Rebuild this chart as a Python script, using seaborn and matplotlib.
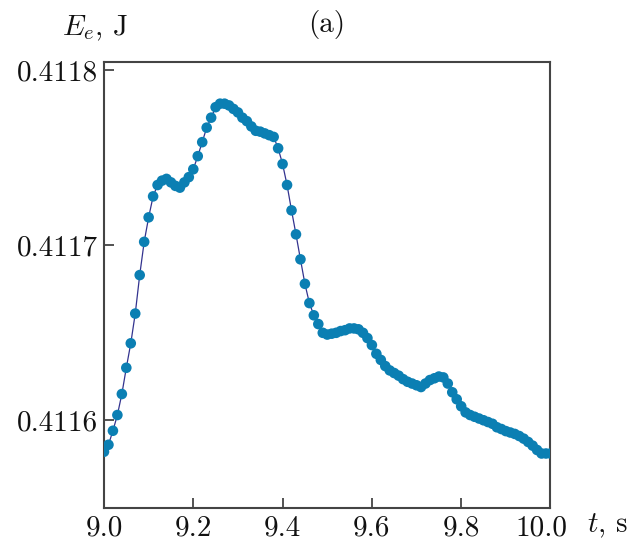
import numpy as np
import pandas as pd
import matplotlib
matplotlib.use("Agg")
import matplotlib.pyplot as plt
import matplotlib.transforms as mtransforms
import seaborn as sns

# ---- data ----
t_values = [
    9.00, 9.01, 9.02, 9.03, 9.04, 9.05, 9.06, 9.07, 9.08, 9.09,
    9.10, 9.11, 9.12, 9.13, 9.14, 9.15, 9.16, 9.17, 9.18, 9.19,
    9.20, 9.21, 9.22, 9.23, 9.24, 9.25, 9.26, 9.27, 9.28, 9.29,
    9.30, 9.31, 9.32, 9.33, 9.34, 9.35, 9.36, 9.37, 9.38, 9.39,
    9.40, 9.41, 9.42, 9.43, 9.44, 9.45, 9.46, 9.47, 9.48, 9.49,
    9.50, 9.51, 9.52, 9.53, 9.54, 9.55, 9.56, 9.57, 9.58, 9.59,
    9.60, 9.61, 9.62, 9.63, 9.64, 9.65, 9.66, 9.67, 9.68, 9.69,
    9.70, 9.71, 9.72, 9.73, 9.74, 9.75, 9.76, 9.77, 9.78, 9.79,
    9.80, 9.81, 9.82, 9.83, 9.84, 9.85, 9.86, 9.87, 9.88, 9.89,
    9.90, 9.91, 9.92, 9.93, 9.94, 9.95, 9.96, 9.97, 9.98, 9.99,
    10.00,
]
energy_values = [
    0.4115820, 0.4115860, 0.4115940, 0.4116030, 0.4116150, 0.4116300, 0.4116440, 0.4116610, 0.4116830, 0.4117020,
    0.4117160, 0.4117280, 0.4117345, 0.4117370, 0.4117380, 0.4117360, 0.4117340, 0.4117330, 0.4117360, 0.4117390,
    0.4117435, 0.4117510, 0.4117590, 0.4117673, 0.4117730, 0.4117790, 0.4117810, 0.4117810, 0.4117800, 0.4117780,
    0.4117760, 0.4117730, 0.4117710, 0.4117680, 0.4117655, 0.4117650, 0.4117640, 0.4117630, 0.4117620, 0.4117555,
    0.4117465, 0.4117345, 0.4117200, 0.4117063, 0.4116920, 0.4116780, 0.4116670, 0.4116600, 0.4116550, 0.4116500,
    0.4116490, 0.4116495, 0.4116500, 0.4116510, 0.4116515, 0.4116525, 0.4116525, 0.4116520, 0.4116500, 0.4116470,
    0.4116430, 0.4116380, 0.4116345, 0.4116310, 0.4116285, 0.4116270, 0.4116255, 0.4116235, 0.4116220, 0.4116210,
    0.4116200, 0.4116190, 0.4116210, 0.4116230, 0.4116240, 0.4116250, 0.4116245, 0.4116210, 0.4116160, 0.4116120,
    0.4116080, 0.4116045, 0.4116030, 0.4116020, 0.4116010, 0.4116000, 0.4115990, 0.4115980, 0.4115960, 0.4115950,
    0.4115938, 0.4115930, 0.4115922, 0.4115910, 0.4115895, 0.4115876, 0.4115855, 0.4115830, 0.4115810, 0.4115810,
    0.4115810,
]
x_ticks = [9.0, 9.2, 9.4, 9.6, 9.8, 10.0]
x_tick_labels = ["9.0", "9.2", "9.4", "9.6", "9.8", "10.0"]
y_ticks = [0.4116, 0.4117, 0.4118]
y_tick_labels = ["0.4116", "0.4117", "0.4118"]

df = pd.DataFrame({"t": t_values, "E": energy_values})

sns.set_theme(style="ticks")
plt.rcParams["font.family"] = ["cmr10", "DejaVu Serif"]
plt.rcParams["mathtext.fontset"] = "cm"
plt.rcParams["axes.unicode_minus"] = False
plt.rcParams["axes.formatter.use_mathtext"] = True

fig = plt.figure(figsize=(6.31, 5.45), dpi=100)
ax = fig.add_axes([0.1648, 0.0684, 0.8724 - 0.1648, 0.8868 - 0.0684])

sns.lineplot(data=df, x="t", y="E", ax=ax, color="#33338f", linewidth=0.9, zorder=2)
sns.scatterplot(data=df, x="t", y="E", ax=ax, color="#0b7fb3", s=58,
                edgecolor="none", linewidth=0, zorder=3)

ax.set_xlim(9.0, 10.0)
ax.set_ylim(0.41155, 0.411805)
ax.set_xticks(x_ticks)
ax.set_xticklabels(x_tick_labels)
ax.set_yticks(y_ticks)
ax.set_yticklabels(y_tick_labels)
ax.set_xlabel("")
ax.set_ylabel("")

ax.tick_params(axis="both", direction="in", length=7, width=1.3, color="#444444",
               labelsize=21, labelcolor="#111111", top=False, right=False)
ax.tick_params(axis="x", pad=5)
ax.tick_params(axis="y", pad=4)
for sp in ax.spines.values():
    sp.set_visible(True)
    sp.set_color("#444444")
    sp.set_linewidth(1.5)

# the last x tick label sits slightly left of its tick in the reference
last = ax.get_xticklabels()[-1]
last.set_transform(last.get_transform() + mtransforms.ScaledTranslation(-9 / 100, 0, fig.dpi_scale_trans))

fig.text(0.150, 0.948, r"$E_e$, J", fontsize=21, ha="center", va="center", color="#111111")
fig.text(0.518, 0.955, "(a)", fontsize=21, ha="center", va="center", color="#111111")
fig.text(0.962, 0.035, r"$t$, s", fontsize=21, ha="center", va="center", color="#111111")

fig.savefig("out.png", dpi=100, facecolor="white")
